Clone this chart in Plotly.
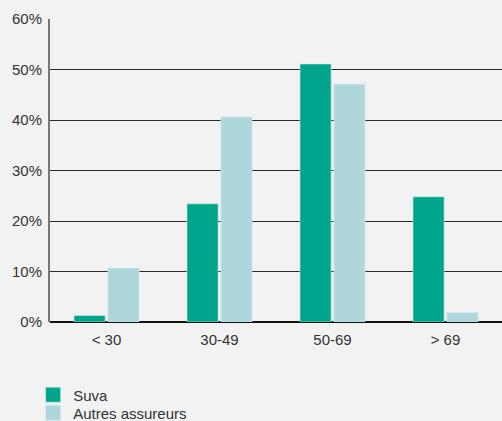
import plotly.graph_objects as go

categories = ["< 30", "30-49", "50-69", "> 69"]
suva = [1.3, 23.4, 51.1, 24.8]
autres = [10.7, 40.6, 47.1, 1.9]
series_names = ["Suva", "Autres assureurs"]
series_colors = ["#00A58B", "#ADD7DC"]
y_ticks = [0, 10, 20, 30, 40, 50, 60]
y_tick_labels = ["0%", "10%", "20%", "30%", "40%", "50%", "60%"]

fig = go.Figure()
for name, vals, col in zip(series_names, [suva, autres], series_colors):
    fig.add_trace(go.Bar(x=categories, y=vals, name=name, showlegend=False,
                         marker=dict(color=col, line=dict(color="#D8ECEA", width=0.6))))

# legend entries (square swatches)
for i, (name, col) in enumerate(zip(series_names, series_colors)):
    fig.add_trace(go.Scatter(x=[None], y=[None], mode="markers", name=name,
                             legend="legend" if i == 0 else "legend2",
                             marker=dict(symbol="square", size=15, color=col,
                                         line=dict(color="#D8ECEA", width=0.6))))

leg_common = dict(orientation="v", x=0.066, xanchor="left", yanchor="middle",
                  xref="container", yref="container",
                  bgcolor="rgba(0,0,0,0)", font=dict(size=15, color="#333333"),
                  itemsizing="trace")

fig.update_layout(
    width=502, height=421,
    margin=dict(l=50, r=0, t=19, b=99, autoexpand=False),
    paper_bgcolor="#F2F2F2", plot_bgcolor="#F2F2F2",
    barmode="group", bargap=0.4, bargroupgap=0.08,
    font=dict(family="Liberation Sans, Arial, sans-serif", size=15, color="#333333"),
    showlegend=True,
    legend=dict(y=0.062, **leg_common),
    legend2=dict(y=0.019, **leg_common),
    xaxis=dict(showgrid=False, showline=False, ticks="", tickfont=dict(size=15),
               zeroline=False, automargin=False, ticklabelstandoff=7),
    yaxis=dict(range=[0, 60], tickvals=y_ticks, ticktext=y_tick_labels,
               showgrid=True, gridcolor="#2a2a2a", gridwidth=1,
               zeroline=True, zerolinecolor="#111111", zerolinewidth=2,
               showline=True, linecolor="#777777", linewidth=2,
               ticks="", tickfont=dict(size=15), ticklabelstandoff=3,
               automargin=False),
)

fig.write_html("out.html", config={"displayModeBar": False},
               post_script="document.body.style.margin='0';document.body.style.overflow='hidden';")
